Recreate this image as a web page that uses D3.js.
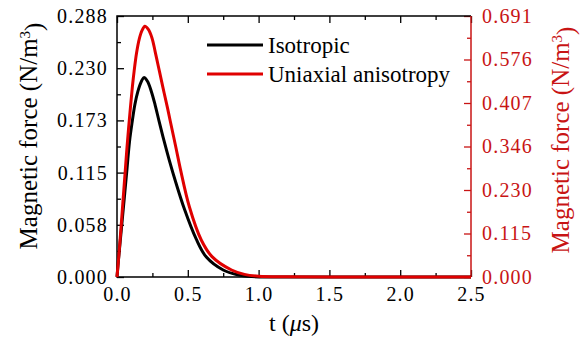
<!DOCTYPE html>
<html>
<head>
<meta charset="utf-8">
<script src="https://cdn.jsdelivr.net/npm/d3@7"></script>
<style>
  body { margin: 0; background: #fff; }
  svg text { font-family: "Liberation Serif", "DejaVu Serif", "Times New Roman", serif; }
</style>
</head>
<body>
<svg id="chart"></svg>
<script>
// Isotropic curve, left axis units (N/m^3)
const tIso = [0, 0.011, 0.031, 0.052, 0.071, 0.088, 0.107, 0.126, 0.147, 0.17, 0.19, 0.215, 0.243, 0.269, 0.297, 0.331, 0.369, 0.416, 0.476, 0.559, 0.631, 0.75, 0.85, 0.952, 1.1, 1.5, 2.0, 2.5];
const fIso = [0, 0.020, 0.053, 0.088, 0.120, 0.149, 0.171, 0.190, 0.2045, 0.215, 0.220, 0.216, 0.2045, 0.190, 0.172, 0.151, 0.129, 0.104, 0.075, 0.042, 0.022, 0.0077, 0.0025, 0.0005, 0.0001, 0, 0, 0];

// Uniaxial anisotropy curve, right axis units (N/m^3)
const tUni = [0, 0.019, 0.043, 0.059, 0.071, 0.095, 0.109, 0.121, 0.138, 0.157, 0.177, 0.197, 0.22, 0.247, 0.269, 0.293, 0.307, 0.333, 0.357, 0.376, 0.416, 0.447, 0.511, 0.595, 0.671, 0.809, 0.9, 1.0, 1.2, 1.5, 2.0, 2.5];
const fUni = [0, 0.085, 0.205, 0.285, 0.345, 0.45, 0.505, 0.545, 0.593, 0.630, 0.653, 0.664, 0.656, 0.633, 0.5975, 0.556, 0.532, 0.487, 0.447, 0.413, 0.343, 0.287, 0.186, 0.098, 0.054, 0.0185, 0.007, 0.002, 0.0005, 0, 0, 0];

const xTicks = [0, 0.5, 1.0, 1.5, 2.0, 2.5];
const leftLabels = ["0.000", "0.058", "0.115", "0.173", "0.230", "0.288"];
const rightLabels = ["0.000", "0.115", "0.230", "0.346", "0.407", "0.576", "0.691"];
const leftMax = 0.288;
const rightMax = 0.691;
const seriesNames = ["Isotropic", "Uniaxial anisotropy"];

const W = 581, H = 339;
const L = 117, R = 471, T = 16, B = 277;
const black = "#000";
const red = "#e00000";
const axisRed = "#c81414";

const svg = d3.select("#chart").attr("width", W).attr("height", H);

const x = d3.scaleLinear().domain([0, 2.5]).range([L, R]);
const yL = d3.scaleLinear().domain([0, leftMax]).range([B, T]);
const yR = d3.scaleLinear().domain([0, rightMax]).range([B, T]);

const leftVals = leftLabels.map((d, i) => i * leftMax / (leftLabels.length - 1));
const rightVals = rightLabels.map((d, i) => i * rightMax / (rightLabels.length - 1));
const mids = a => a.slice(1).map((v, i) => (v + a[i]) / 2);

function style(g, color) {
  g.attr("font-size", 20);
  g.select(".domain").remove();
  g.selectAll("line").attr("stroke", color).attr("stroke-width", 1.3);
  g.selectAll("text")
    .attr("fill", color)
    .style("letter-spacing", "1.2px");
}

// bottom axis
svg.append("g").attr("transform", `translate(0,${B})`)
  .call(d3.axisBottom(x).tickValues(xTicks).tickFormat(d3.format(".1f"))
    .tickSizeInner(-7).tickSizeOuter(0).tickPadding(10))
  .call(g => style(g, black));
svg.append("g").attr("transform", `translate(0,${B})`)
  .call(d3.axisBottom(x).tickValues(mids(xTicks)).tickFormat("").tickSizeInner(-4).tickSizeOuter(0))
  .call(g => style(g, black));

// top axis
svg.append("g").attr("transform", `translate(0,${T})`)
  .call(d3.axisTop(x).tickValues(xTicks).tickFormat("").tickSizeInner(-7).tickSizeOuter(0))
  .call(g => style(g, black));
svg.append("g").attr("transform", `translate(0,${T})`)
  .call(d3.axisTop(x).tickValues(mids(xTicks)).tickFormat("").tickSizeInner(-4).tickSizeOuter(0))
  .call(g => style(g, black));

// left axis
svg.append("g").attr("transform", `translate(${L},0)`)
  .call(d3.axisLeft(yL).tickValues(leftVals).tickFormat((d, i) => leftLabels[i])
    .tickSizeInner(-7).tickSizeOuter(0).tickPadding(9))
  .call(g => style(g, black));
svg.append("g").attr("transform", `translate(${L},0)`)
  .call(d3.axisLeft(yL).tickValues(mids(leftVals)).tickFormat("").tickSizeInner(-4).tickSizeOuter(0))
  .call(g => style(g, black));

// right axis
svg.append("g").attr("transform", `translate(${R},0)`)
  .call(d3.axisRight(yR).tickValues(rightVals).tickFormat((d, i) => rightLabels[i])
    .tickSizeInner(-7).tickSizeOuter(0).tickPadding(11))
  .call(g => style(g, axisRed));
svg.append("g").attr("transform", `translate(${R},0)`)
  .call(d3.axisRight(yR).tickValues(mids(rightVals)).tickFormat("").tickSizeInner(-4).tickSizeOuter(0))
  .call(g => style(g, axisRed));

// frame
svg.append("path").attr("d", `M${R},${T}H${L}V${B}H${R}`)
  .attr("fill", "none").attr("stroke", black).attr("stroke-width", 1.5);
svg.append("line").attr("x1", R).attr("x2", R).attr("y1", T).attr("y2", B)
  .attr("stroke", axisRed).attr("stroke-width", 1.5);

// curves
const lineL = d3.line().x(d => x(d[0])).y(d => yL(d[1])).curve(d3.curveCatmullRom.alpha(0.5));
const lineR = d3.line().x(d => x(d[0])).y(d => yR(d[1])).curve(d3.curveCatmullRom.alpha(0.5));

svg.append("path").datum(d3.zip(tIso, fIso)).attr("d", lineL)
  .attr("fill", "none").attr("stroke", black).attr("stroke-width", 3);
svg.append("path").datum(d3.zip(tUni, fUni)).attr("d", lineR)
  .attr("fill", "none").attr("stroke", red).attr("stroke-width", 3);

// legend
const legend = svg.append("g");
[black, red].forEach((c, i) => {
  const ly = 45 + i * 29;
  legend.append("line").attr("x1", 207).attr("x2", 263).attr("y1", ly).attr("y2", ly)
    .attr("stroke", c).attr("stroke-width", 3);
  legend.append("text").attr("x", 268).attr("y", ly + 8)
    .attr("font-size", 23).attr("fill", black).text(seriesNames[i]);
});

// axis titles
const xt = svg.append("text").attr("x", (L + R) / 2).attr("y", 331)
  .attr("text-anchor", "middle").attr("font-size", 24);
xt.append("tspan").text("t (");
xt.append("tspan").attr("font-style", "italic").text("μ");
xt.append("tspan").text("s)");

function yTitle(px, py, color) {
  const t = svg.append("text").attr("transform", `translate(${px},${py}) rotate(-90)`)
    .attr("text-anchor", "middle").attr("fill", color).attr("font-size", 25);
  t.append("tspan").text("Magnetic force (N/m");
  t.append("tspan").attr("dy", "-0.45em").attr("font-size", 15).text("3");
  t.append("tspan").attr("dy", "0.45em").text(")");
}
yTitle(37, 136, black);
yTitle(569, 140, axisRed);
</script>
</body>
</html>
